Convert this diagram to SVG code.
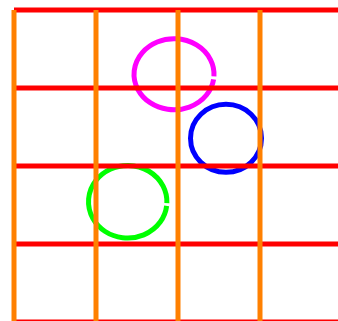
<svg xmlns="http://www.w3.org/2000/svg" width="338" height="321" viewBox="0 0 338 321">
<style>
.c{fill:none;stroke-width:5}
.h{stroke:#ff0000;stroke-width:5}
.v{stroke:#ff8000;stroke-width:5}
</style>
<rect width="338" height="321" fill="#ffffff"/>
<g id="circles">
<path id="magenta" class="c" stroke="#ff00ff" d="M213.6,79.4 A40,35.5 0 1 1 213.95,76.4"/>
<ellipse id="blue" class="c" stroke="#0000ff" cx="226" cy="138.3" rx="35.5" ry="34"/>
<path id="green" class="c" stroke="#00ff00" d="M166.65,205.9 A39.2,36.3 0 1 1 166.88,203.07"/>
</g>
<g id="rows">
<line class="h" x1="14" y1="10" x2="338" y2="10"/>
<line class="h" x1="14" y1="88" x2="338" y2="88"/>
<line class="h" x1="14" y1="166" x2="338" y2="166"/>
<line class="h" x1="14" y1="244" x2="338" y2="244"/>
<line class="h" x1="14" y1="322" x2="338" y2="322"/>
</g>
<g id="columns">
<line class="v" x1="14" y1="10" x2="14" y2="321"/>
<line class="v" x1="96" y1="10" x2="96" y2="321"/>
<line class="v" x1="178" y1="10" x2="178" y2="321"/>
<line class="v" x1="260" y1="10" x2="260" y2="321"/>
</g>
</svg>
